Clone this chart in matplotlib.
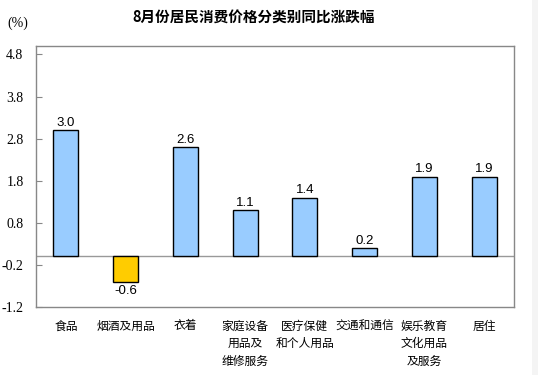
import matplotlib.pyplot as plt
from matplotlib.patches import Rectangle

plt.rcParams["font.family"] = ["Noto Sans CJK SC", "DejaVu Sans"]

categories = [
    "食品",
    "烟酒及用品",
    "衣着",
    "家庭设备\n用品及\n维修服务",
    "医疗保健\n和个人用品",
    "交通和通信",
    "娱乐教育\n文化用品\n及服务",
    "居住",
]
values = [3.0, -0.6, 2.6, 1.1, 1.4, 0.2, 1.9, 1.9]
yticks = [-1.2, -0.2, 0.8, 1.8, 2.8, 3.8, 4.8]

fig = plt.figure(figsize=(5.38, 3.75), dpi=100)
fig.patches.append(Rectangle((532 / 538, 0), 6 / 538, 1, transform=fig.transFigure,
                             facecolor="#f4f4f4", edgecolor="none", zorder=0))
ax = fig.add_axes([36 / 538, 1 - 307 / 375, 478 / 538, 261 / 375])

colors = ["#FFCC00" if v < 0 else "#99CCFF" for v in values]
x = list(range(len(values)))
bars = ax.bar(x, values, width=0.42, color=colors, edgecolor="black", linewidth=1, zorder=3)

for xi, v in zip(x, values):
    if v >= 0:
        ax.annotate(f"{v:.1f}", (xi, v), xytext=(0, 1), textcoords="offset points",
                    ha="center", va="bottom", fontsize=9.5, family="Liberation Sans")
    else:
        ax.annotate(f"{v:.1f}", (xi, v), xytext=(0, -2), textcoords="offset points",
                    ha="center", va="top", fontsize=9.5, family="Liberation Sans")

ax.axhline(0, color="#999999", linewidth=1, zorder=2)

ax.set_xlim(-0.5, len(values) - 0.5)
ax.set_ylim(-1.2, 5.0)
ax.set_yticks(yticks)
ax.set_yticklabels([f"{t:.1f}" for t in yticks], family="Liberation Serif", fontsize=10)
ax.tick_params(axis="y", direction="in", length=4, color="#888888", pad=9)
ax.set_xticks(x)
ax.set_xticklabels(categories, fontsize=8.5, linespacing=1.45, va="top")
ax.tick_params(axis="x", length=0, pad=9)

for s in ax.spines.values():
    s.set_color("#888888")
    s.set_linewidth(1)

fig.text(254 / 538, 1 - 18 / 375, "8月份居民消费价格分类别同比涨跌幅", ha="center", va="center",
         fontsize=10.5, weight="bold")
fig.text(18 / 538, 1 - 23 / 375, "(%)", ha="center", va="center", fontsize=10,
         family="Liberation Serif")

fig.savefig("out.png", dpi=100)
